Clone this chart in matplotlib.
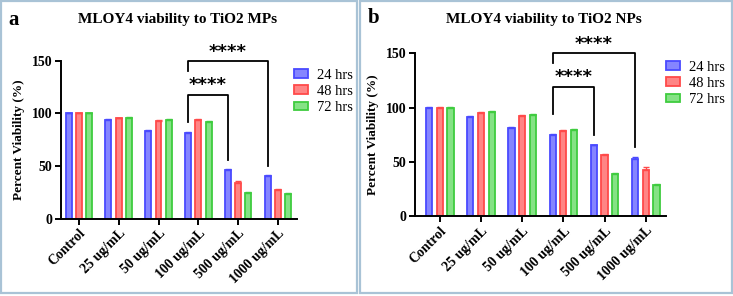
"""Recreate MLOY4 viability bar charts (TiO2 MPs / NPs)."""
import matplotlib.pyplot as plt
import numpy as np
from matplotlib.patches import Patch, Rectangle

# --------------------------------------------------------------------------- #
# Data
# --------------------------------------------------------------------------- #
groups = ["Control", "25 ug/mL", "50 ug/mL", "100 ug/mL", "500 ug/mL", "1000 ug/mL"]
series = ["24 hrs", "48 hrs", "72 hrs"]

mp_24 = [100, 93.8, 83.3, 81.2, 46.3, 40.2]
mp_48 = [100, 95.3, 92.9, 93.7, 34.1, 27.1]
mp_72 = [100, 95.4, 93.5, 91.6, 23.9, 23.4]
mp_err_24 = [0.8, 0.8, 0.8, 1.2, 0.8, 1.0]
mp_err_48 = [0.8, 0.8, 0.8, 0.8, 1.6, 0.8]
mp_err_72 = [0.8, 0.8, 0.8, 0.8, 1.0, 0.8]

np_24 = [100, 91.4, 81.2, 74.7, 65.1, 52.5]
np_48 = [100, 95.1, 92.6, 78.4, 56.5, 42.6]
np_72 = [100, 96.0, 93.5, 79.6, 38.9, 28.7]
np_err_24 = [0.8, 1.0, 0.8, 0.8, 0.8, 1.6]
np_err_48 = [0.8, 0.8, 0.8, 0.8, 0.8, 2.4]
np_err_72 = [0.8, 0.8, 0.8, 0.8, 0.6, 0.8]

# brackets: (left group, right group, top, left leg end, right leg end, star y)
mp_brackets = [(3, 5, 150, 140, 50, 159), (3, 4, 117.5, 92, 56, 127)]
np_brackets = [(3, 5, 150, 141, 64, 159), (3, 4, 119, 94, 75, 128.5)]

FACE = ["#8585ff", "#ff8585", "#85e285"]
EDGE = ["#4a4aff", "#ff4a4a", "#3fcc3f"]
SERIF = "Liberation Serif"


def draw_panel(ax, vals, errs, brackets, title, title_x, letter, letter_xy, legend_xy):
    x = np.arange(len(groups))
    off = 0.26
    for k, (v, e) in enumerate(zip(vals, errs)):
        xs = x + (k - 1) * off
        ax.bar(xs, v, width=0.15, color=FACE[k], edgecolor=EDGE[k], linewidth=1.3,
               zorder=2)
        ax.errorbar(xs, v, yerr=[np.zeros(len(e)), e], fmt="none", ecolor=EDGE[k],
                    elinewidth=1.0, capsize=2, capthick=1.0, zorder=3)
    ax.set_ylim(0, 150)
    ax.set_yticks([0, 50, 100, 150])
    ax.set_xticks(x)
    ax.set_xticklabels(groups, rotation=45, ha="right", rotation_mode="anchor",
                       fontsize=10, fontweight="bold", family=SERIF)
    for lab in ax.get_yticklabels():
        lab.set_fontweight("bold")
        lab.set_family(SERIF)
        lab.set_fontsize(10)
    ax.tick_params(axis="both", direction="out", length=4, width=1.4, pad=2)
    ax.spines[["top", "right"]].set_visible(False)
    ax.spines[["left", "bottom"]].set_linewidth(1.4)
    ax.set_ylabel("Percent Viability (%)", fontsize=9.5, fontweight="bold",
                  family=SERIF, labelpad=5)

    for g0, g1, top, l_end, r_end, sy in brackets:
        x0, x1 = g0 - off, g1 - off
        ax.plot([x0, x0, x1, x1], [l_end, top, top, r_end], color="black",
                lw=1.3, clip_on=False, zorder=4)
        ax.text((x0 + x1) / 2, sy, "****", ha="center", va="center",
                fontsize=13, fontweight="bold", clip_on=False)

    fig = ax.figure
    fig.text(title_x, 1 - 20 / 296, title, ha="center", va="center",
             fontsize=11, fontweight="bold", family=SERIF)
    fig.text(letter_xy[0], letter_xy[1], letter, ha="center", va="center",
             fontsize=15, fontweight="bold", family=SERIF)
    handles = [Patch(facecolor=FACE[k], edgecolor=EDGE[k], linewidth=1.3)
               for k in range(3)]
    fig.legend(handles, series, loc="upper left", bbox_to_anchor=legend_xy,
               frameon=False, prop={"family": SERIF, "size": 10.5},
               handlelength=1.0, handleheight=0.55, labelspacing=0.22,
               handletextpad=0.6, borderaxespad=0)


fig = plt.figure(figsize=(7.33, 2.96), dpi=100)

# panel frames
fig.patches.append(Rectangle((1 / 733, 3 / 296), 356 / 733, 292 / 296,
                             transform=fig.transFigure, fill=False,
                             edgecolor="#a9c3d6", lw=1.6))
fig.patches.append(Rectangle((360 / 733, 3 / 296), 371.5 / 733, 292 / 296,
                             transform=fig.transFigure, fill=False,
                             edgecolor="#a9c3d6", lw=1.6))

ax_a = fig.add_axes([61 / 733, 1 - 218.5 / 296, 236 / 733, 157.5 / 296])
ax_a.set_xlim(-0.45, 5.48)
ax_b = fig.add_axes([415 / 733, 1 - 216 / 296, 251 / 733, 162.7 / 296])
ax_b.set_xlim(-0.6, 5.49)

draw_panel(ax_a, [mp_24, mp_48, mp_72], [mp_err_24, mp_err_48, mp_err_72],
           mp_brackets, "MLOY4 viability to TiO2 MPs", 178 / 733, "a",
           (14 / 733, 1 - 20 / 296), (288 / 733, 1 - 63 / 296))
draw_panel(ax_b, [np_24, np_48, np_72], [np_err_24, np_err_48, np_err_72],
           np_brackets, "MLOY4 viability to TiO2 NPs", 544 / 733, "b",
           (374 / 733, 1 - 18 / 296), (660 / 733, 1 - 55 / 296))

fig.savefig("out.png", dpi=100)
